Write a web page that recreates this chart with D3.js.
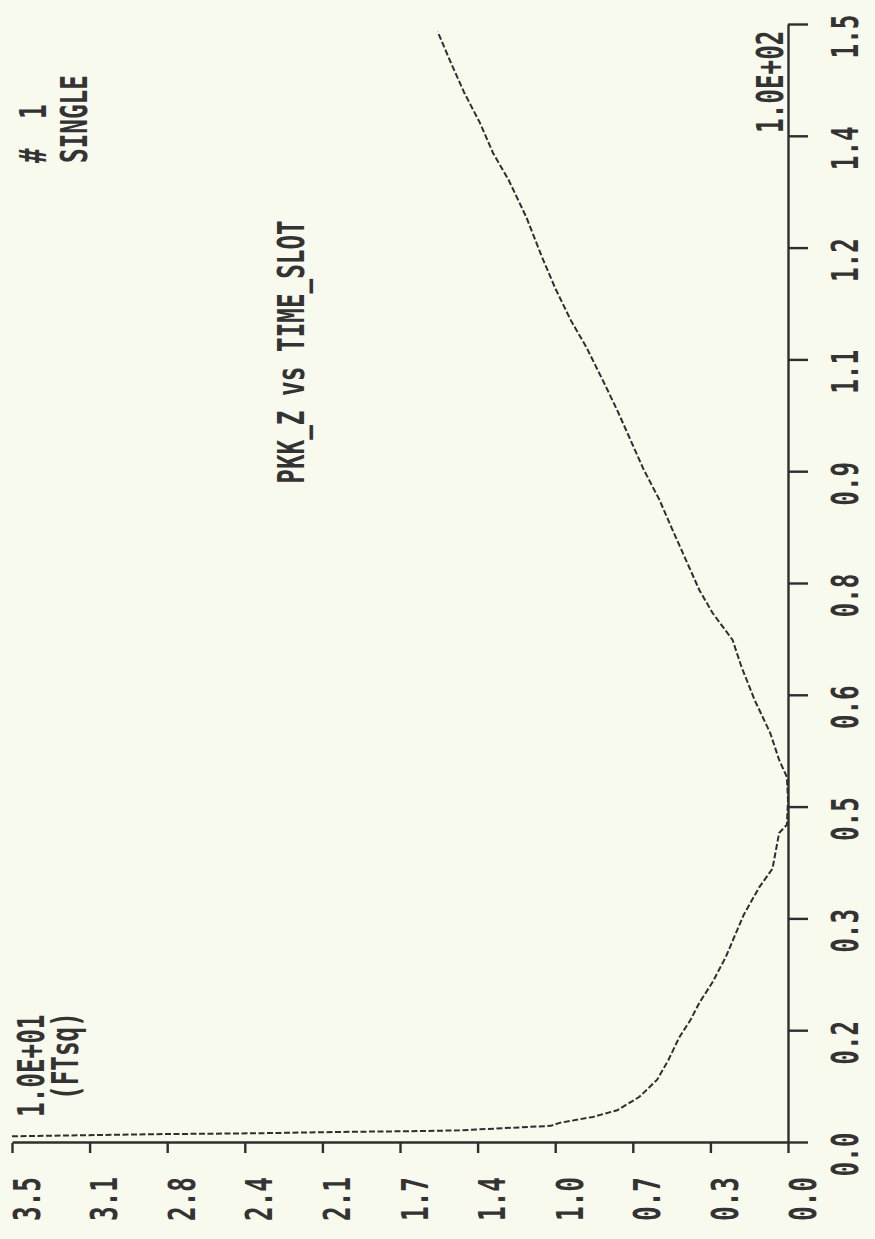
<!DOCTYPE html>
<html>
<head>
<meta charset="utf-8">
<script src="https://cdn.jsdelivr.net/npm/d3@7"></script>
<style>
body { margin: 0; background: #f9faee; }
text { font-family: "DejaVu Sans Mono", monospace; font-weight: bold; fill: #333; }
</style>
</head>
<body>
<div id="chart"></div>
<script>

// PKK_Z (x1.0E+01 FTsq) against TIME_SLOT (x1.0E+02)
var timeSlot = [0.009, 0.012, 0.013, 0.015, 0.016, 0.017, 0.023, 0.027, 0.035, 0.044,
                0.062, 0.085, 0.111, 0.142, 0.165, 0.188, 0.216, 0.250, 0.306, 0.343,
                0.368, 0.416, 0.427, 0.460, 0.491, 0.514, 0.550, 0.594, 0.639, 0.675,
                0.711, 0.742, 0.782, 0.822, 0.863, 0.903, 0.943, 0.983, 1.020, 1.068,
                1.104, 1.147, 1.189, 1.242, 1.292, 1.328, 1.369, 1.409, 1.449, 1.491];
var pkkZ = [3.50, 2.80, 2.41, 1.98, 1.65, 1.48, 1.07, 1.03, 0.88, 0.77,
            0.67, 0.59, 0.54, 0.49, 0.44, 0.40, 0.34, 0.28, 0.20, 0.13,
            0.07, 0.04, 0.005, 0.0, 0.005, 0.04, 0.08, 0.15, 0.21, 0.25,
            0.34, 0.40, 0.46, 0.52, 0.58, 0.65, 0.71, 0.77, 0.83, 0.91,
            0.98, 1.05, 1.11, 1.18, 1.26, 1.33, 1.39, 1.46, 1.52, 1.58];

var timeTicks = [0, 0.15, 0.3, 0.45, 0.6, 0.75, 0.9, 1.05, 1.2, 1.35, 1.5];
var timeTickLabels = ["0.0", "0.2", "0.3", "0.5", "0.6", "0.8", "0.9", "1.1", "1.2", "1.4", "1.5"];
var pkkTicks = [0, 0.35, 0.7, 1.05, 1.4, 1.75, 2.1, 2.45, 2.8, 3.15, 3.5];
var pkkTickLabels = ["0.0", "0.3", "0.7", "1.0", "1.4", "1.7", "2.1", "2.4", "2.8", "3.1", "3.5"];

var width = 875,
    height = 1239,
    squeeze = "scale(0.64,1)",
    ink = "#2e2e2e";

var svg = d3.select("#chart").append("svg")
    .attr("width", width)
    .attr("height", height);

svg.append("rect")
    .attr("width", width)
    .attr("height", height)
    .attr("fill", "#f9faee");

// the plot is laid out landscape and turned a quarter turn
var g = svg.append("g")
    .attr("transform", "translate(0," + height + ") rotate(-90)")
    .attr("font-size", 38);

var x = d3.scaleLinear().domain([0, 1.5]).range([96, 1214]);
var y = d3.scaleLinear().domain([0, 3.5]).range([788, 12]);

var xAxis = g.append("g")
    .attr("transform", "translate(0,788)")
    .call(d3.axisBottom(x)
      .tickValues(timeTicks)
      .tickFormat(function(d, i) { return timeTickLabels[i]; })
      .tickSize(20)
      .tickSizeOuter(0)
      .tickPadding(23));

xAxis.selectAll("text")
    .attr("font-size", 38)
    .attr("font-family", null)
    .attr("transform", "translate(-12,0) " + squeeze);

var yAxis = g.append("g")
    .attr("transform", "translate(96,0)")
    .call(d3.axisLeft(y)
      .tickValues(pkkTicks)
      .tickFormat(function(d, i) { return pkkTickLabels[i]; })
      .tickSize(10)
      .tickSizeOuter(0));

yAxis.selectAll("text")
    .attr("font-size", 38)
    .attr("font-family", null)
    .attr("x", 0)
    .attr("text-anchor", "middle")
    .attr("transform", "translate(-56,15) " + squeeze);

g.selectAll(".domain, .tick line")
    .attr("stroke", ink)
    .attr("stroke-width", 2.4);
g.selectAll(".tick text").attr("fill", ink);

var line = d3.line()
    .x(function(d) { return x(d[0]); })
    .y(function(d) { return y(d[1]); });

g.append("path")
    .datum(d3.zip(timeSlot, pkkZ))
    .attr("fill", "none")
    .attr("stroke", ink)
    .attr("stroke-width", 2)
    .attr("stroke-dasharray", "6,2.5")
    .attr("d", line);

function label(txt, a, b, anchor) {
  g.append("text")
      .attr("transform", "translate(" + a + "," + b + ") " + squeeze)
      .attr("text-anchor", anchor)
      .text(txt);
}

label("PKK_Z vs TIME_SLOT", 887, 304, "middle");
label("1.0E+01", 122, 44, "start");
label("(FTsq)", 139, 78, "start");
label("1.0E+02", 1106, 783, "start");
label("#\u00a0\u00a01", 1076, 46, "start");
label("SINGLE", 1076, 87, "start");

</script>
</body>
</html>
